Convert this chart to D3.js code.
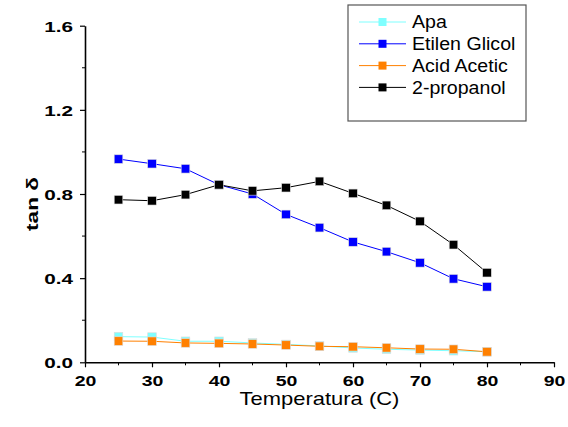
<!DOCTYPE html>
<html>
<head>
<meta charset="utf-8">
<script src="https://cdn.jsdelivr.net/npm/d3@7"></script>
<style>
  html, body { margin: 0; padding: 0; background: #fff; }
  svg { display: block; font-family: "Liberation Sans", Arial, sans-serif; }
</style>
</head>
<body>
<svg id="chart" width="568" height="427"></svg>
<script>
// ---- data ----
const temperatures = [25, 30, 35, 40, 45, 50, 55, 60, 65, 70, 75, 80];
const seriesNames = ["Apa", "Etilen Glicol", "Acid Acetic", "2-propanol"];
const apa          = [0.122, 0.120, 0.100, 0.100, 0.092, 0.085, 0.078, 0.068, 0.062, 0.058, 0.055, 0.050];
const etilenGlicol = [0.966, 0.944, 0.920, 0.844, 0.800, 0.703, 0.640, 0.572, 0.526, 0.473, 0.397, 0.359];
const acidAcetic   = [0.101, 0.100, 0.092, 0.090, 0.087, 0.082, 0.076, 0.074, 0.069, 0.063, 0.062, 0.050];
const propanol2    = [0.773, 0.768, 0.797, 0.844, 0.815, 0.830, 0.860, 0.803, 0.746, 0.670, 0.559, 0.426];
const xTicks = [20, 30, 40, 50, 60, 70, 80, 90];
const yTicks = [0.0, 0.4, 0.8, 1.2, 1.6];
const xMinorTicks = [25, 35, 45, 55, 65, 75, 85];
const yMinorTicks = [0.2, 0.6, 1.0, 1.4];

const colors = ["#7fffff", "#0000ff", "#ff8000", "#000000"];
const seriesValues = [apa, etilenGlicol, acidAcetic, propanol2];

const svg = d3.select("#chart");
const x = d3.scaleLinear().domain([20, 90]).range([85, 554]);
const y = d3.scaleLinear().domain([0, 1.6]).range([362.3, 25.7]);

// axes
const xAxis = d3.axisBottom(x).tickValues(xTicks).tickFormat(d3.format("d")).tickSize(5).tickSizeOuter(0);
const yAxis = d3.axisLeft(y).tickValues(yTicks).tickFormat(d3.format(".1f")).tickSize(5).tickSizeOuter(0);

const gx = svg.append("g").attr("transform", `translate(0,${y(0)})`).call(xAxis);
const gy = svg.append("g").attr("transform", `translate(${x(20)},0)`).call(yAxis);

// minor ticks
gx.selectAll(".minor").data(xMinorTicks).enter().append("line")
  .attr("x1", d => x(d)).attr("x2", d => x(d)).attr("y1", 0).attr("y2", 3)
  .attr("stroke", "#000").attr("stroke-width", 1);
gy.selectAll(".minor").data(yMinorTicks).enter().append("line")
  .attr("y1", d => y(d)).attr("y2", d => y(d)).attr("x1", 0).attr("x2", -3)
  .attr("stroke", "#000").attr("stroke-width", 1);

[gx, gy].forEach(g => {
  g.select(".domain").attr("stroke", "#000").attr("stroke-width", 1.6);
  g.selectAll(".tick line").attr("stroke", "#000").attr("stroke-width", 1.2);
  g.selectAll(".tick text").attr("fill", "#000")
    .style("font-family", "'Liberation Sans', Arial, sans-serif")
    .style("font-size", "15px").style("font-weight", "bold");
});
gx.selectAll(".tick text").attr("y", 0).attr("dy", null)
  .attr("transform", "translate(0,24) scale(1.3,1)");
gy.selectAll(".tick text").attr("x", 0).attr("dy", "0.36em")
  .attr("transform", "translate(-12,0) scale(1.38,1)");

// axis titles
svg.append("text").attr("transform", `translate(${x(55)},405) scale(1.22,1)`)
  .attr("text-anchor", "middle")
  .style("font-size", "18px").attr("fill", "#000").text("Temperatura (C)");
svg.append("text").attr("transform", `translate(38,204) rotate(-90) scale(1.33,1)`)
  .attr("text-anchor", "middle").style("font-size", "17px").style("font-weight", "bold")
  .attr("fill", "#000").text("tan δ");

// series
const line = d3.line().x((d, i) => x(temperatures[i])).y(d => y(d));
seriesValues.forEach((vals, k) => {
  const g = svg.append("g");
  g.append("path").datum(vals).attr("d", line).attr("fill", "none")
    .attr("stroke", colors[k]).attr("stroke-width", 1);
  g.selectAll("rect").data(vals).enter().append("rect")
    .attr("x", (d, i) => x(temperatures[i]) - 4.3)
    .attr("y", d => y(d) - 4.3)
    .attr("width", 8.6).attr("height", 8.6)
    .attr("fill", colors[k]).attr("stroke", "#ddd").attr("stroke-width", 0.6);
});

// legend
const lg = svg.append("g");
lg.append("rect").attr("x", 348).attr("y", 5).attr("width", 178).attr("height", 116)
  .attr("fill", "#fff").attr("stroke", "#555").attr("stroke-width", 1.2);
seriesNames.forEach((name, k) => {
  const ly = 22 + k * 21.8;
  lg.append("line").attr("x1", 359).attr("x2", 406).attr("y1", ly).attr("y2", ly)
    .attr("stroke", colors[k]).attr("stroke-width", 1);
  lg.append("rect").attr("x", 378.5).attr("y", ly - 4).attr("width", 8).attr("height", 8)
    .attr("fill", colors[k]);
  lg.append("text").attr("transform", `translate(412,${ly}) scale(1.12,1)`).attr("dy", "0.36em")
    .style("font-size", "17.5px").attr("fill", "#000").text(name);
});
</script>
</body>
</html>
